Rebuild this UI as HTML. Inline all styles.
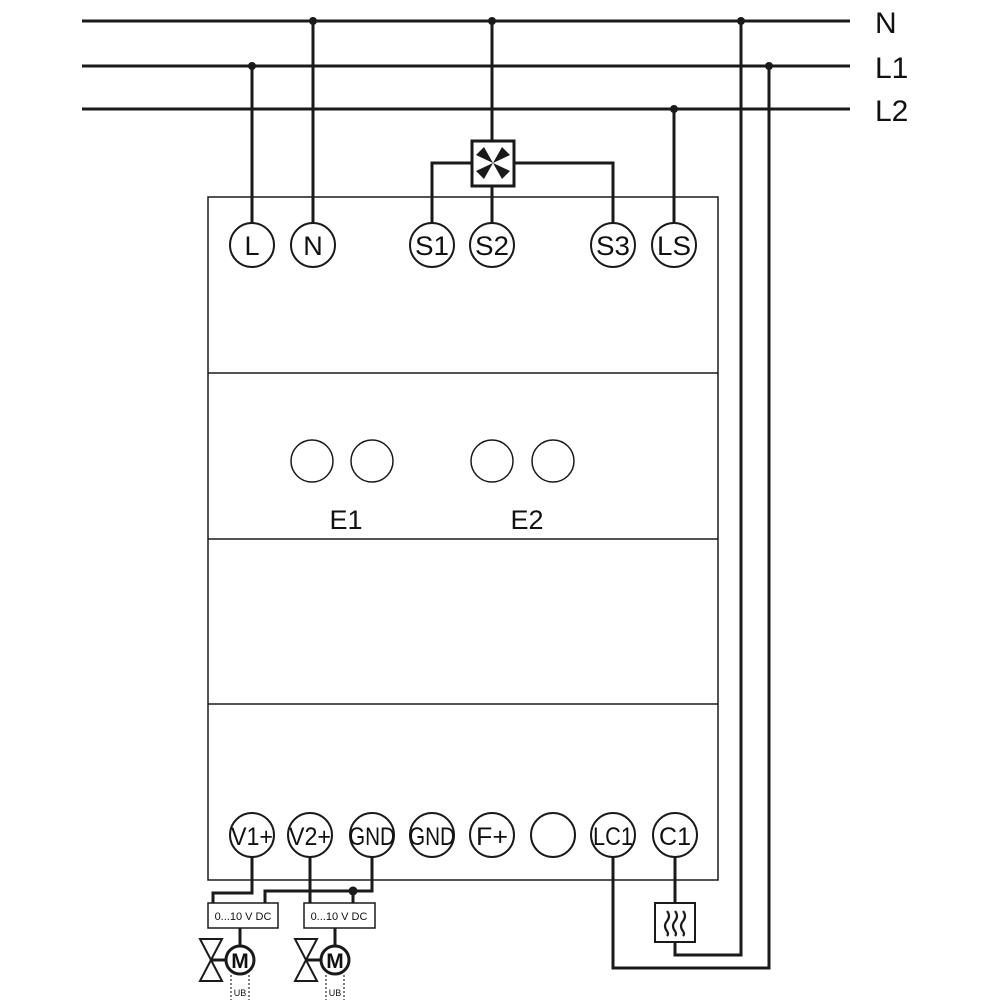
<!DOCTYPE html>
<html><head><meta charset="utf-8"><style>
html,body{margin:0;padding:0;background:#fff;}
svg{display:block;}
text{font-family:"Liberation Sans",sans-serif;fill:#111;}
</style></head><body>
<svg width="1000" height="1000" viewBox="0 0 1000 1000" xmlns="http://www.w3.org/2000/svg">
<g stroke="#1a1a1a" fill="none">
  <line x1="82" y1="21" x2="850" y2="21" stroke-width="3"/>
  <line x1="82" y1="66" x2="850" y2="66" stroke-width="3"/>
  <line x1="82" y1="109" x2="850" y2="109" stroke-width="3"/>
  <rect x="208" y="197" width="510" height="683" stroke-width="1.5"/>
  <line x1="208" y1="373" x2="718" y2="373" stroke-width="1.5"/>
  <line x1="208" y1="539" x2="718" y2="539" stroke-width="1.5"/>
  <line x1="208" y1="704" x2="718" y2="704" stroke-width="1.5"/>
  <g stroke-width="3">
    <line x1="252" y1="66" x2="252" y2="223"/>
    <line x1="313" y1="21" x2="313" y2="223"/>
    <line x1="492" y1="21" x2="492" y2="141"/>
    <line x1="492" y1="186" x2="492" y2="223"/>
    <polyline points="472,163 432,163 432,223"/>
    <polyline points="514,163 613,163 613,223"/>
    <line x1="674" y1="109" x2="674" y2="223"/>
    <polyline points="741,21 741,955 675,955 675,942"/>
    <line x1="675" y1="857" x2="675" y2="903"/>
    <polyline points="769,66 769,968 613,968 613,857"/>
    <polyline points="252,857 252,893 213,893 213,903"/>
    <line x1="310" y1="857" x2="310" y2="903"/>
    <polyline points="372,857 372,891 265,891 265,903"/>
    <line x1="353" y1="891" x2="353" y2="903"/>
    <line x1="240" y1="928" x2="240" y2="946"/>
    <line x1="335" y1="928" x2="335" y2="946"/>
    <line x1="211" y1="960" x2="226" y2="960"/>
    <line x1="306" y1="960" x2="321" y2="960"/>
  </g>
  <g fill="#1a1a1a" stroke="none">
    <circle cx="252" cy="66" r="4"/>
    <circle cx="313" cy="21" r="4"/>
    <circle cx="492" cy="21" r="4"/>
    <circle cx="674" cy="109" r="4"/>
    <circle cx="741" cy="21" r="4"/>
    <circle cx="769" cy="66" r="4"/>
    <circle cx="353" cy="891" r="4.5"/>
  </g>
  <rect x="472" y="141" width="42" height="45" stroke-width="3" fill="#fff"/>
  <g fill="#1a1a1a" stroke="none">
    <polygon points="493,163 476,155 484,147"/>
    <polygon points="493,163 510,155 502,147"/>
    <polygon points="493,163 476,171 484,179"/>
    <polygon points="493,163 510,171 502,179"/>
  </g>
  <g stroke-width="2" fill="#fff">
    <circle cx="252" cy="245" r="22"/><circle cx="313" cy="245" r="22"/>
    <circle cx="432" cy="245" r="22"/><circle cx="492" cy="245" r="22"/>
    <circle cx="613" cy="245" r="22"/><circle cx="674" cy="245" r="22"/>
  </g>
  <g stroke-width="1.5">
    <circle cx="312" cy="461" r="21"/><circle cx="372" cy="461" r="21"/>
    <circle cx="492" cy="461" r="21"/><circle cx="553" cy="461" r="21"/>
  </g>
  <g stroke-width="2" fill="#fff">
    <circle cx="252" cy="835" r="22"/><circle cx="310" cy="835" r="22"/>
    <circle cx="372" cy="835" r="22"/><circle cx="432" cy="835" r="22"/>
    <circle cx="492" cy="835" r="22"/><circle cx="553" cy="835" r="22"/>
    <circle cx="613" cy="835" r="22"/><circle cx="675" cy="835" r="22"/>
  </g>
  <rect x="655" y="903" width="40" height="39" stroke-width="2" fill="#fff"/>
  <g stroke-width="2.2">
    <path d="M667,911 q4,5 0,10 q-4,5 0,10 q2,3 0,5"/>
    <path d="M675,911 q4,5 0,10 q-4,5 0,10 q2,3 0,5"/>
    <path d="M683,911 q4,5 0,10 q-4,5 0,10 q2,3 0,5"/>
  </g>
  <rect x="208" y="903" width="70" height="25" stroke-width="1.5" fill="#fff"/>
  <rect x="304" y="903" width="71" height="25" stroke-width="1.5" fill="#fff"/>
  <g stroke-width="2">
    <polygon points="200,939 222,939 200,981 222,981"/>
    <polygon points="295,939 317,939 295,981 317,981"/>
    <circle cx="240" cy="960" r="14" stroke-width="3"/>
    <circle cx="335" cy="960" r="14" stroke-width="3"/>
  </g>
  <g stroke-width="1.5" stroke-dasharray="2,2" stroke="#555">
    <line x1="231" y1="975" x2="231" y2="1000"/><line x1="249" y1="975" x2="249" y2="1000"/>
    <line x1="326" y1="975" x2="326" y2="1000"/><line x1="344" y1="975" x2="344" y2="1000"/>
  </g>
</g>
<g font-size="30">
  <text x="875" y="33">N</text>
  <text x="875" y="78">L1</text>
  <text x="875" y="121">L2</text>
</g>
<g font-size="27" text-anchor="middle">
  <text x="252" y="255">L</text><text x="313" y="255">N</text>
  <text x="432" y="255" textLength="34" lengthAdjust="spacingAndGlyphs">S1</text>
  <text x="492" y="255" textLength="34" lengthAdjust="spacingAndGlyphs">S2</text>
  <text x="613" y="255" textLength="34" lengthAdjust="spacingAndGlyphs">S3</text>
  <text x="674" y="255" textLength="34" lengthAdjust="spacingAndGlyphs">LS</text>
  <text x="346" y="529">E1</text><text x="527" y="529">E2</text>
</g>
<g font-size="25" text-anchor="middle">
  <text x="252" y="845" textLength="42" lengthAdjust="spacingAndGlyphs">V1+</text>
  <text x="310" y="845" textLength="42" lengthAdjust="spacingAndGlyphs">V2+</text>
  <text x="372" y="845" textLength="46" lengthAdjust="spacingAndGlyphs">GND</text>
  <text x="432" y="845" textLength="46" lengthAdjust="spacingAndGlyphs">GND</text>
  <text x="492" y="845" textLength="32" lengthAdjust="spacingAndGlyphs">F+</text>
  <text x="613" y="845" textLength="40" lengthAdjust="spacingAndGlyphs">LC1</text>
  <text x="675" y="845" textLength="32" lengthAdjust="spacingAndGlyphs">C1</text>
</g>
<g font-size="11" text-anchor="middle">
  <text x="243" y="920">0...10 V DC</text>
  <text x="339" y="920">0...10 V DC</text>
</g>
<g font-size="21" font-weight="bold" text-anchor="middle">
  <text x="240" y="968">M</text><text x="335" y="968">M</text>
</g>
<g font-size="9" text-anchor="middle" fill="#333">
  <text x="240" y="996">UB</text><text x="335" y="996">UB</text>
</g>
</svg>
</body></html>
